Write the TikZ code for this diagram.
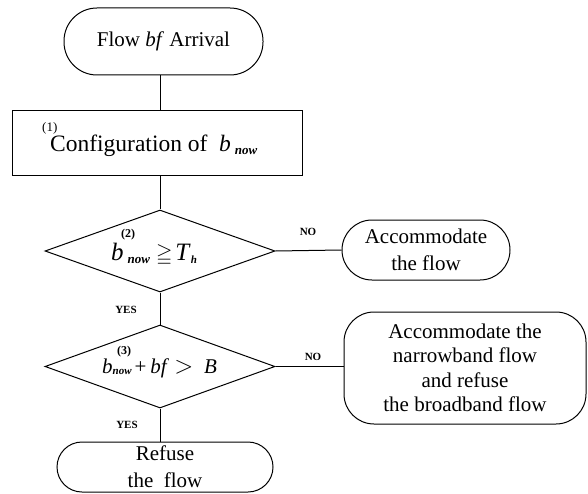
\documentclass[tikz,border=0pt]{standalone}
\usepackage{fontspec}
\usepackage{amssymb}
\setmainfont{Liberation Serif}
\usetikzlibrary{shapes.geometric}
\newcommand{\subnow}[2][13]{\raisebox{-#2}{\fontsize{#1}{#1}\selectfont\bfseries\itshape now}}
\begin{document}
\begin{tikzpicture}[x=1pt,y=-1pt,
  ln/.style={line width=1pt},
  term/.style={draw, line width=1pt, rounded corners=#1, inner sep=0pt, align=center,
    font=\fontsize{21}{27}\selectfont},
  decision/.style={diamond, draw, line width=1pt, inner sep=0pt,
    minimum width=230pt, minimum height=82pt},
  lbl/.style={font=\fontsize{11}{11}\selectfont\bfseries, inner sep=0pt},
  numlbl/.style={font=\fontsize{13}{13}\selectfont, anchor=base west, inner sep=0pt}
]
\useasboundingbox (0,0) rectangle (588,494);

% nodes
\node[term=33pt, minimum width=199pt, minimum height=67pt] (start) at (163.5,41.5)
  {Flow \textit{bf} Arrival};
\node[draw, ln, minimum width=290pt, minimum height=65pt, inner sep=0pt] (cfg) at (157,143.5) {};
\node[numlbl] (n1) at (42,132) {(1)};
\node[anchor=base west, inner sep=0pt, font=\fontsize{23.5}{23.5}\selectfont] (cfgt) at (50,152)
  {Configuration of \ \textit{b}\,\subnow{3pt}};

\node[decision] (d2) at (160,251) {};
\node[numlbl, font=\fontsize{12}{12}\selectfont\bfseries] (n2) at (121,237) {(2)};
\node[anchor=base west, inner sep=0pt, font=\fontsize{25}{25}\selectfont] (f2) at (111,260)
  {\textit{b}\hspace{4pt}\subnow{3pt}\hspace{6pt}{\fontsize{21}{21}\selectfont$\geqq$}\hspace{3pt}\textit{T}\raisebox{-3pt}{\fontsize{11}{11}\selectfont\bfseries\itshape h}};

\node[term=30pt, minimum width=168pt, minimum height=60pt] (acc) at (426,250)
  {Accommodate\\the flow};

\node[decision, minimum height=83pt] (d3) at (160,366.5) {};
\node[numlbl, font=\fontsize{12}{12}\selectfont\bfseries] (n3) at (117,354) {(3)};
\node[anchor=base west, inner sep=0pt, font=\fontsize{21}{21}\selectfont] (f3) at (102,373)
  {\textit{b}\subnow[11]{1pt}\hspace{3pt}+\hspace{4pt}\textit{bf}\hspace{5pt}{\fontsize{28}{28}\selectfont$>$}\hspace{11pt}\textit{B}};

\node[term=30pt, minimum width=242pt, minimum height=112pt,
  font=\fontsize{21}{24.5}\selectfont] (acc2) at (465,368)
  {Accommodate the\\narrowband flow\\and refuse\\the broadband flow};

\node[term=25pt, minimum width=216pt, minimum height=50pt] (ref) at (165,467)
  {Refuse\\the\ \ flow};

% labels
\node[lbl] (no1) at (308,232) {NO};
\node[lbl] (yes1) at (126,310) {YES};
\node[lbl] (no2) at (313,357) {NO};
\node[lbl] (yes2) at (127,425) {YES};

% connectors
\draw[ln] (d2.north |- start.south) -- (d2.north |- cfg.north);
\draw[ln] (d2.north |- cfg.south) -- (d2.north);
\draw[ln] (d2.east) -- (acc.west);
\draw[ln] (d2.south) -- (d3.north);
\draw[ln] (d3.east) -- (acc2.west |- d3.east);
\draw[ln] (d3.south) -- (d3.south |- ref.north);
\end{tikzpicture}
\end{document}
